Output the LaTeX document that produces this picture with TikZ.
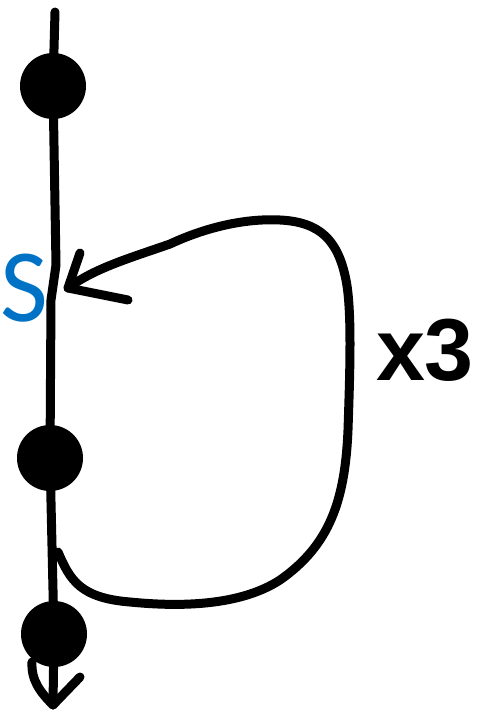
\documentclass[tikz,border=0pt]{standalone}
\usepackage{fontspec}
\newfontfamily\labelfont{Carlito}
\newfontfamily\handfont{Liberation Sans}
\definecolor{sblue}{RGB}{0,114,198}
\begin{document}
\begin{tikzpicture}[x=1pt,y=-1pt,
  stroke/.style={line width=9pt,line cap=round,line join=round},
  dot/.style={circle,fill=black,minimum size=66pt,inner sep=0pt}]
\useasboundingbox (0,0) rectangle (488,720);
% dots
\node[dot] (d1) at (53,86) {};
\node[dot] (d2) at (50,458) {};
\node[dot] (d3) at (54,634) {};
% main vertical line
\coordinate (top) at (55,12);
\coordinate (bot) at (53,705);
\draw[stroke] (top) -- (d1.center) -- (56,265) -- (51,300) -- (d2.center) -- (d3.center) -- (bot);
% bottom arrowhead
\coordinate (bl) at (32,662);
\coordinate (br) at (80,677);
\draw[stroke] (bl) .. controls (31,680) and (40,692) .. (bot) -- (br);
% loop
\coordinate (ls) at (58,552);
\coordinate (tip) at (68,288);
\draw[stroke] (ls) .. controls (70,580) and (80,598) .. (130,602)
  .. controls (180,607) and (240,606) .. (280,580)
  .. controls (330,545) and (345,500) .. (348,430)
  .. controls (350,370) and (352,310) .. (346,280)
  .. controls (338,240) and (320,222) .. (280,220)
  .. controls (240,218) and (200,230) .. (170,244)
  .. controls (130,258) and (95,268) .. (tip);
\coordinate (ta) at (80,253);
\coordinate (tb) at (128,300);
\draw[stroke] (ta) -- (tip) -- (tb);
% labels
\node[text=sblue,font=\labelfont\fontsize{104}{104}\selectfont,inner sep=0pt,anchor=west] (S) at (0,288) {S};
\node[font=\handfont\bfseries\fontsize{88}{88}\selectfont,inner sep=0pt] (x3) at (425,350) {x3};
\end{tikzpicture}
\end{document}
